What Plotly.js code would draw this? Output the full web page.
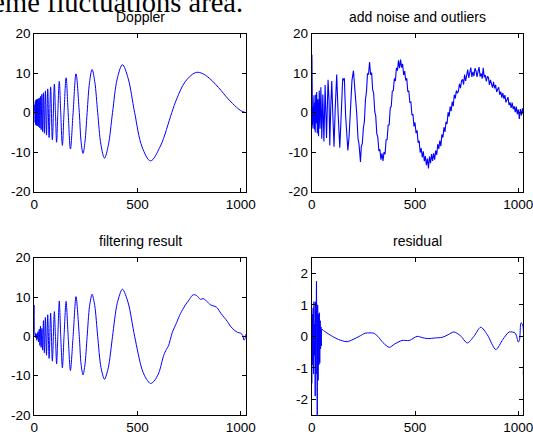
<!DOCTYPE html>
<html>
<head>
<meta charset="utf-8">
<script src="https://cdn.plot.ly/plotly-3.0.1.min.js"></script>
<style>html,body{margin:0;padding:0;background:#fff;}#chart{width:533px;height:437px;}</style>
</head>
<body>
<div id="chart"></div>
<script>
// ---- Doppler (top-left) ----
var dopX = [1,1.9,3.2,4.7,6.1,7.7,9.4,11.2,13.0,15.0,17.1,19.3,21.7,24.2,27.0,29.9,33.1,36.6,40.4,44.4,48.8,53.7,59.1,65.0,71.7,79.1,87.5,97.1,102.4,108,114,121,128,136,144,154,164,175,188,202,218,226.3,236,245.4,256,267.4,280,292.9,307,322.8,340,358.4,379,401.5,427,454.8,486,522.2,563,610.5,666,690,730.8,780,809,850,904.5,930,960,1000,1024];
var dopY = [0.3,2.0,-2.5,2.8,-3.0,3.2,-3.2,3.3,-3.3,3.4,-3.4,3.5,-3.6,3.7,-3.9,4.1,-4.3,4.6,-4.8,5.0,-5.2,5.5,-5.7,6.0,-6.3,6.5,-6.9,7.2,0,-7.5,0,7.9,0,-8.3,0,8.8,0,-9.2,0,9.8,0,-7.2,-10.3,-7.4,0,7.6,10.9,7.8,0,-8.1,-11.5,-8.3,0,8.5,12.1,8.6,0,-8.7,-12.2,-8.5,0,3.5,7.8,10.1,10.0,8.6,5.6,4.0,2.3,0.5,0];

// ---- Noisy signal (top-right) ----
var noisyX = [1,2,3,4,5,6,7.7,9.4,11.2,13,15,17.1,19.3,21.7,24.2,27,29.9,33.1,36.6,40.4,44.4,48.8,53.7,59.1,65,71.7,79.1,84,87.5,92,97.1,102.4,108,114,121,128,136,144,150,154,158,164,170,175,181,188,195,202,208,213,218,224,229,233,236,240,245,
250,255,260,265,270,275,280,285,290,295,300,305,310,315,320,325,330,335,340,345,350,355,360,365,370,375,380,385,390,395,400,405,410,415,420,425,430,435,440,445,450,455,460,465,470,475,480,485,490,495,500,505,510,515,520,525,530,535,540,545,550,555,560,565,570,575,580,585,590,595,600,605,610,615,620,625,630,635,640,645,650,655,660,665,670,675,680,685,690,695,700,705,710,715,720,725,730,735,740,745,750,755,760,765,770,775,780,785,790,795,800,805,810,815,820,825,830,835,840,845,850,855,860,865,870,875,880,885,890,895,900,905,910,915,920,925,930,935,940,945,950,955,960,965,970,975,980,985,990,995,1000,1005,1010,1015,1020,1024];
var noisyY = [14.6,-1.8,2.6,-3.2,1.5,-4.0,3.8,-2.6,4.4,-4.3,2.5,-5.0,4.6,-2.7,5.2,-5.3,3.4,-6.0,5.6,-4.1,6.4,-6.6,4.6,-7.3,7.0,-6.4,8.3,3.0,-8.3,1.0,8.0,-0.8,-8.6,1.2,9.6,-0.5,-8.9,0.9,8.6,8.3,8.7,-0.6,-7.5,-9.6,-6.0,0.9,8.2,10.6,7.0,4.8,-0.3,-6.5,-8.0,-10.5,-12.5,-8.6,-7.8,
-3.9,-2.3,3.2,5.2,9.8,9.7,12.8,9.6,10.1,5.8,4.9,0.3,-0.9,-5.4,-6.2,-9.7,-9.3,-11.9,-10.3,-12.2,-10.0,-10.5,-6.9,-6.8,-3.2,-3.1,1.1,1.6,5.4,5.6,8.6,8.0,11.3,10.6,13.2,11.2,13.4,11.4,12.3,9.5,10.5,8.1,8.7,5.3,5.5,2.6,2.7,-0.6,-0.4,-3.5,-2.5,-5.2,-4.5,-7.6,-7.1,-10.1,-9.0,-11.3,-9.8,-12.3,-11.0,-13.3,-11.6,-14.1,-11.1,-12.8,-10.5,-12.2,-10.3,-11.9,-9.6,-10.7,-8.0,-9.2,-7.1,-8.5,-5.5,-6.3,-3.7,-4.9,-2.3,-2.9,0.1,-1.0,1.5,0.4,2.8,1.6,4.5,3.6,
5.6,4.9,5.4,7.3,6.2,8.0,8.4,7.1,9.6,8.0,9.4,10.9,8.8,9.9,11.4,9.0,10.3,9.2,11.2,10.6,9.0,10.4,11.5,9.1,9.9,8.6,11.3,8.9,9.5,7.9,9.1,8.9,7.0,8.3,7.4,6.3,7.8,6.1,7.0,5.2,5.9,6.4,4.5,5.3,3.8,4.9,3.5,4.4,2.6,3.2,3.9,1.9,2.6,1.2,2.5,0.9,1.6,0.1,1.5,-0.4,0.8,-1.6,0.9,-0.7,1.1,-0.4];

// ---- Filtering result (bottom-left) ----
var filtX = [1,2,4,6,8,10,12,14,16,18,20,22,24,27,30,33,36.6,40.4,44.4,48.8,53.7,59.1,65,71.7,79.1,87.5,97.1,102.4,108,114,121,128,136,144,154,164,175,188,202,218,226.3,236,245.4,256,267.4,280,292.9,307,322.8,340,358.4,379,401.5,427,454.8,486,522.2,545,563,580,603,627,640,650,668,690,708,731,750,765,775,786,795,805,818,830,845,854,870,880,887,903,920,935,950,968,985,1000,1010,1015,1020,1024];
var filtY = [8.0,0.6,0.1,0.8,-0.4,0.5,-1.0,0.7,-0.5,1.2,-1.4,0.3,1.8,-2.3,2.6,-2.8,2.0,-3.5,4.0,-4.2,4.8,-4.8,5.5,-5.6,5.9,-6.3,6.3,0,-7.0,0,9.0,0,-8.0,0,8.9,0,-8.7,0,10.1,0,-7.0,-9.8,-7.2,0,7.6,10.7,7.8,0,-7.9,-10.9,-8.0,0,8.4,12.0,8.5,0,-8.5,-11.0,-12.0,-11.4,-9.3,-4.8,-3.3,-2.4,0.9,3.6,5.8,7.9,9.3,10.4,10.6,10.4,9.9,9.4,9.6,9.2,8.4,8.0,7.7,7.5,7.2,5.9,4.8,3.8,2.6,1.6,1.0,0.8,0.2,-0.9,-0.8,0.6];

// ---- Residual (bottom-right) ----
var resX = [1,3,5,7,9,11,13,15,17,19,21,23,25,27,29,31,33,35,37,39,41,43,45,47,50,60,80,100,130,170,200,230,259,280,300,320,345,376,400,437,473,510,535,559,600,632,660,688,720,753,785,818,850,891,925,956,985,1000,1006,1013,1021,1024];
var resY = [-1.5,0.7,-0.9,0.9,-1.2,1.1,-0.6,0.4,-1.9,1.1,-1.2,1.75,-0.3,-2.8,1.0,-1.4,0.7,-0.9,0.75,-0.85,0.5,-0.4,0.3,-0.3,0.22,0.17,0.08,0.0,-0.1,-0.17,-0.1,0.0,0.1,0.11,0.1,0.0,-0.2,-0.35,-0.25,-0.13,-0.13,0.0,-0.04,-0.07,-0.05,-0.03,0.05,0.14,0.02,-0.21,0.0,0.29,0.05,-0.42,-0.1,0.14,0.1,-0.18,-0.1,0.43,0.37,-1.22];

// ---- Labels ----
var panelTitles = ['Doppler', 'add noise and outliers', 'filtering result', 'residual'];
var topCaption = 'extreme fluctuations area.';
var xTickVals = [0, 500, 1000];
var xTickText = ['0', '500', '1000'];
var bigTickVals = [-20, -10, 0, 10, 20];
var bigTickText = ['-20', '-10', '0', '10', '20'];
var resTickVals = [-2, -1, 0, 1, 2];
var resTickText = ['-2', '-1', '0', '1', '2'];

var W = 533, H = 437;
var blue = '#0000ff';
var tickFont = {family: 'Liberation Sans, Arial, sans-serif', size: 13.5, color: '#000'};

function px(x) { return x / W; }
function py(y) { return 1 - y / H; }

var xdomL = [px(34.3), px(245.7)], xdomR = [px(311.7), px(523.3)];
var ydomT = [py(191.7), py(33.5)], ydomB = [py(415), py(257.7)];

function xa(dom, anchor) {
  return {domain: dom, anchor: anchor, range: [0, 1024], tickvals: xTickVals, ticktext: xTickText,
    showline: true, mirror: 'ticks', linecolor: '#000', linewidth: 1, ticks: 'inside', ticklen: 4,
    tickcolor: '#000', tickwidth: 1, showgrid: false, zeroline: false, tickfont: tickFont, fixedrange: true,
    ticklabeloverflow: 'allow'};
}
function ya(dom, anchor, rng, tv, tt) {
  return {domain: dom, anchor: anchor, range: rng, tickvals: tv, ticktext: tt,
    showline: true, mirror: 'ticks', linecolor: '#000', linewidth: 1, ticks: 'inside', ticklen: 4,
    tickcolor: '#000', tickwidth: 1, showgrid: false, zeroline: false, tickfont: tickFont, fixedrange: true,
    ticklabeloverflow: 'allow'};
}

var traces = [
  {x: dopX, y: dopY, xaxis: 'x', yaxis: 'y', type: 'scatter', mode: 'lines', line: {color: blue, width: 1, shape: 'spline', smoothing: 1}},
  {x: noisyX, y: noisyY, xaxis: 'x2', yaxis: 'y2', type: 'scatter', mode: 'lines', line: {color: blue, width: 1.1}},
  {x: filtX, y: filtY, xaxis: 'x3', yaxis: 'y3', type: 'scatter', mode: 'lines', line: {color: blue, width: 1, shape: 'spline', smoothing: 0.8}},
  {x: resX, y: resY, xaxis: 'x4', yaxis: 'y4', type: 'scatter', mode: 'lines', line: {color: blue, width: 1, shape: 'spline', smoothing: 0.8}}
];

var titleFont = {family: 'Liberation Sans, Arial, sans-serif', size: 14, color: '#000'};
var layout = {
  width: W, height: H, margin: {l: 0, r: 0, t: 0, b: 0}, showlegend: false,
  paper_bgcolor: '#fff', plot_bgcolor: '#fff',
  xaxis: xa(xdomL, 'y'), yaxis: ya(ydomT, 'x', [-20, 20], bigTickVals, bigTickText),
  xaxis2: xa(xdomR, 'y2'), yaxis2: ya(ydomT, 'x2', [-20, 20], bigTickVals, bigTickText),
  xaxis3: xa(xdomL, 'y3'), yaxis3: ya(ydomB, 'x3', [-20, 20], bigTickVals, bigTickText),
  xaxis4: xa(xdomR, 'y4'), yaxis4: ya(ydomB, 'x4', [-2.5, 2.5], resTickVals, resTickText),
  annotations: [
    {text: topCaption, xref: 'paper', yref: 'paper', x: px(245), y: py(19.5), xanchor: 'right', yanchor: 'bottom', showarrow: false,
     font: {family: 'Liberation Serif, Times New Roman, serif', size: 28.5, color: '#000'}},
    {text: panelTitles[0], xref: 'paper', yref: 'paper', x: px(140), y: py(17.2), xanchor: 'center', yanchor: 'middle', showarrow: false, font: titleFont},
    {text: panelTitles[1], xref: 'paper', yref: 'paper', x: px(417.5), y: py(17.2), xanchor: 'center', yanchor: 'middle', showarrow: false, font: titleFont},
    {text: panelTitles[2], xref: 'paper', yref: 'paper', x: px(140), y: py(240.8), xanchor: 'center', yanchor: 'middle', showarrow: false, font: titleFont},
    {text: panelTitles[3], xref: 'paper', yref: 'paper', x: px(417.5), y: py(240.8), xanchor: 'center', yanchor: 'middle', showarrow: false, font: titleFont}
  ]
};

Plotly.newPlot('chart', traces, layout, {displayModeBar: false, staticPlot: true});
</script>
</body>
</html>
